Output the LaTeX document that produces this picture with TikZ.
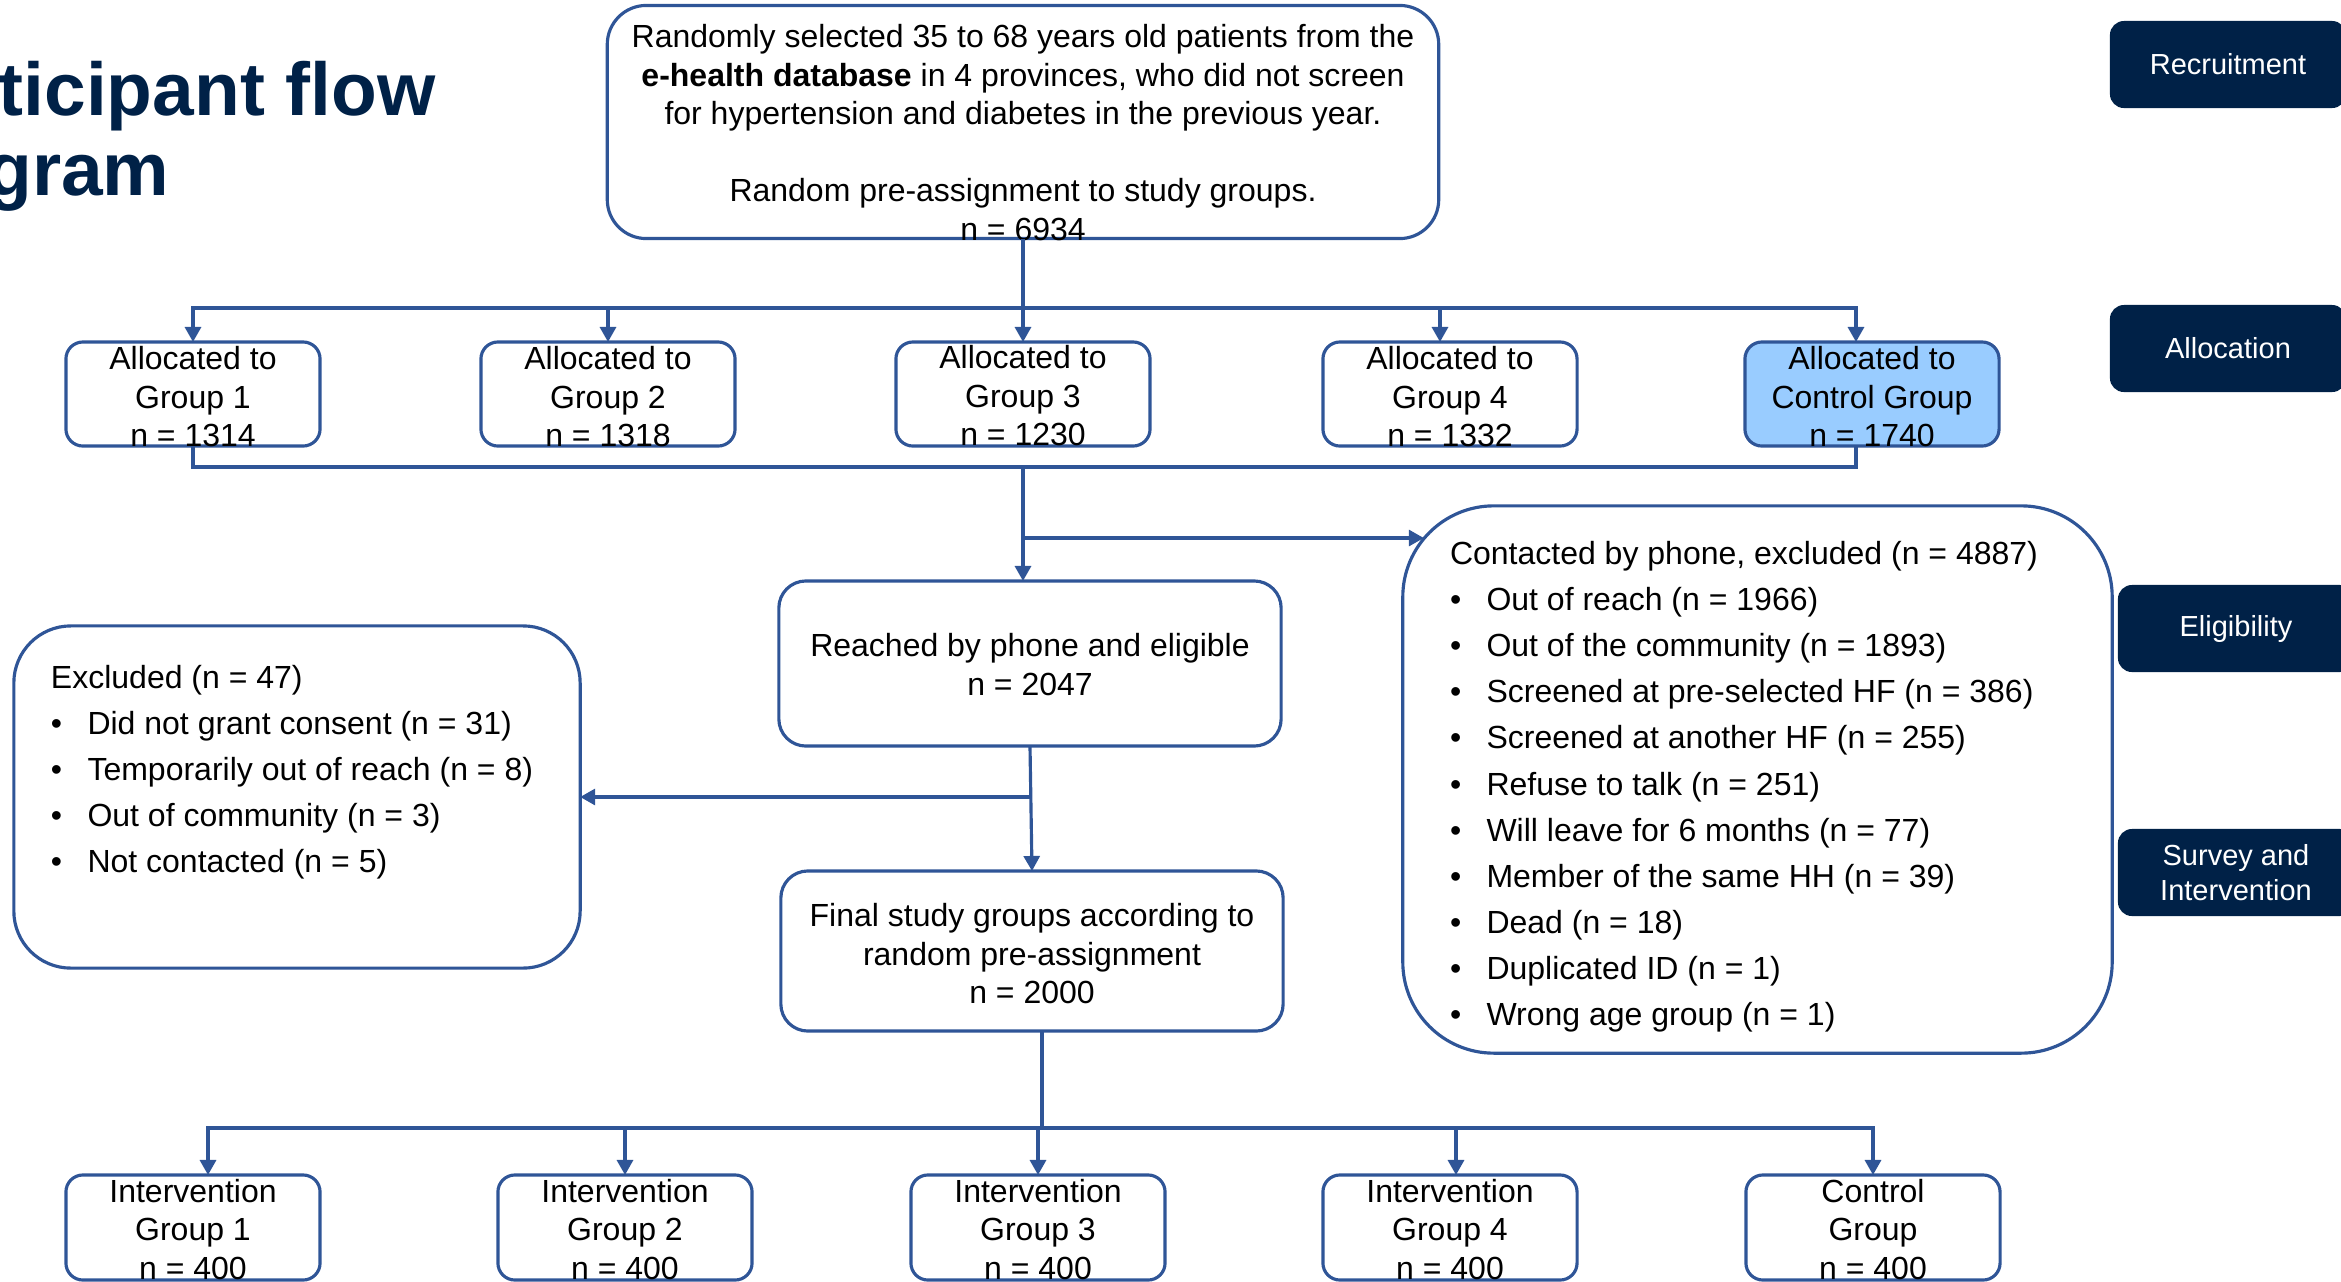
\documentclass[tikz,border=0pt]{standalone}
\usepackage{fontspec}
\setmainfont{Liberation Sans}
\usepackage{xcolor}
\usepackage{tikz}
\usetikzlibrary{arrows.meta,positioning,calc}

\definecolor{flowblue}{RGB}{47,85,151}
\definecolor{navy}{RGB}{0,33,71}
\definecolor{ctrlblue}{RGB}{153,204,255}
\newcommand{\flowitem}{\makebox[0.365cm][l]{\textbullet}}

\begin{document}
\begin{tikzpicture}[
    x=0.01cm, y=-0.01cm,
    every node/.style={inner sep=0pt, outer sep=0pt},
    box/.style={rectangle, draw=flowblue, line width=0.9pt, fill=white, minimum width=2.54cm, minimum height=1.04cm, rounded corners=0.17cm},
    ctrl/.style={box, fill=ctrlblue},
    bigbox/.style={box, rounded corners=#1},
    txt/.style={align=center, font=\fontsize{9.1}{10.95}\selectfont},
    listtxt/.style={align=left, anchor=north west, font=\fontsize{9.1}{13.1}\selectfont},
    stage/.style={rectangle, fill=navy, rounded corners=0.14cm, minimum width=2.36cm, minimum height=0.87cm, text=white, align=center, font=\fontsize{8.25}{9.9}\selectfont},
    heading/.style={align=left, anchor=north west, text=navy, font=\fontsize{21.3}{22.7}\selectfont\bfseries},
    arrow/.style={-{Triangle[length=0.15cm, width=0.16cm]}, draw=flowblue, line width=0.9pt},
    link/.style={draw=flowblue, line width=0.9pt}
]
\useasboundingbox (0,0) rectangle (2341,1281);
\clip (0,0) rectangle (2341,1281);

% Title
\node[heading] (title) at (-122,61) {Participant flow\\diagram};

% Recruitment
\node[bigbox=0.39cm, minimum width=8.31cm, minimum height=2.33cm] (rec) at (1023,122) {};
\node[txt] (rec-txt) at (1023,132.5) {Randomly selected 35 to 68 years old patients from the\\\textbf{e-health database} in 4 provinces, who did not screen\\for hypertension and diabetes in the previous year.\\[0.385cm]Random pre-assignment to study groups.\\n = 6934};

% Allocation
\node[box] (a1) at (193,394) {};
\node[box] (a2) at (608,394) {};
\node[box] (a3) at (1023,394) {};
\node[box] (a4) at (1450,394) {};
\node[ctrl] (a5) at (1872,394) {};
\node[txt] (a1-txt) at (193,397) {Allocated to\\Group 1\\n = 1314};
\node[txt] (a2-txt) at (608,397) {Allocated to\\Group 2\\n = 1318};
\node[txt] (a3-txt) at (1023,396) {Allocated to\\Group 3\\n = 1230};
\node[txt] (a4-txt) at (1450,397) {Allocated to\\Group 4\\n = 1332};
\node[txt] (a5-txt) at (1872,397) {Allocated to\\Control Group\\n = 1740};

% Eligibility
\node[bigbox=0.27cm, minimum width=5.02cm, minimum height=1.65cm] (reach) at (1030,663.5) {};
\node[txt] (reach-txt) at (1030,664.5) {Reached by phone and eligible\\n = 2047};
\node[bigbox=0.27cm, minimum width=5.02cm, minimum height=1.60cm] (fin) at (1032,951) {};
\node[txt] (fin-txt) at (1032,954) {Final study groups according to\\random pre-assignment\\n = 2000};

\node[bigbox=0.91cm, minimum width=7.09cm, minimum height=5.47cm] (contacted) at (1757.5,779.5) {};
\node[listtxt] (contacted-txt) at (1450,541.5) {Contacted by phone, excluded (n = 4887)\\
\flowitem Out of reach (n = 1966)\\
\flowitem Out of the community (n = 1893)\\
\flowitem Screened at pre-selected HF (n = 386)\\
\flowitem Screened at another HF (n = 255)\\
\flowitem Refuse to talk (n = 251)\\
\flowitem Will leave for 6 months (n = 77)\\
\flowitem Member of the same HH (n = 39)\\
\flowitem Dead (n = 18)\\
\flowitem Duplicated ID (n = 1)\\
\flowitem Wrong age group (n = 1)};

\node[bigbox=0.57cm, minimum width=5.66cm, minimum height=3.42cm] (excluded) at (297,797) {};
\node[listtxt] (excluded-txt) at (51,665) {Excluded (n = 47)\\
\flowitem Did not grant consent (n = 31)\\
\flowitem Temporarily out of reach (n = 8)\\
\flowitem Out of community (n = 3)\\
\flowitem Not contacted (n = 5)};

% Survey and intervention
\node[box, minimum height=1.05cm] (i1) at (193,1227.5) {};
\node[box, minimum height=1.05cm] (i2) at (625,1227.5) {};
\node[box, minimum height=1.05cm] (i3) at (1038,1227.5) {};
\node[box, minimum height=1.05cm] (i4) at (1450,1227.5) {};
\node[box, minimum height=1.05cm] (i5) at (1873,1227.5) {};
\node[txt] (i1-txt) at (193,1229.5) {Intervention\\Group 1\\n = 400};
\node[txt] (i2-txt) at (625,1229.5) {Intervention\\Group 2\\n = 400};
\node[txt] (i3-txt) at (1038,1229.5) {Intervention\\Group 3\\n = 400};
\node[txt] (i4-txt) at (1450,1229.5) {Intervention\\Group 4\\n = 400};
\node[txt] (i5-txt) at (1873,1229.5) {Control\\Group\\n = 400};

% Stage tags
\node[stage] (s1) at (2228,64.5) {Recruitment};
\node[stage] (s2) at (2228,348.5) {Allocation};
\node[stage] (s3) at (2236,628.5) {Eligibility};
\node[stage] (s4) at (2236,872.5) {Survey and\\Intervention};

% Connections
\coordinate (bus1) at (rec.south |- 0,308);
\draw[link] (rec.south) -- (bus1);
\draw[arrow] (bus1) -| (a1.north);
\draw[arrow] (bus1) -| (a2.north);
\draw[arrow] (bus1) -- (a3.north);
\draw[arrow] (bus1) -| ([xshift=-0.1cm]a4.north);
\draw[arrow] (bus1) -| ([xshift=-0.16cm]a5.north);

\coordinate (bus2) at (a3.south |- 0,467);
\draw[link] (a1.south) |- (bus2) -| ([xshift=-0.16cm]a5.south);
\draw[arrow] (bus2) -- (bus2 |- reach.north);

\coordinate (split1) at (bus2 |- 0,538);
\coordinate (contacted-in) at ([xshift=0.21cm]split1 -| contacted.west);
\draw[arrow] (split1) -- (contacted-in);

\draw[arrow] (reach.south) -- (fin.north);
\coordinate (split2) at (reach.south |- 0,797);
\draw[arrow] (split2) -- (split2 -| excluded.east);

\coordinate (fout) at ([xshift=0.1cm]fin.south);
\coordinate (bus3) at (fout |- 0,1128);
\draw[link] (fout) -- (bus3);
\draw[arrow] (bus3) -| ([xshift=0.15cm]i1.north);
\draw[arrow] (bus3) -| (i2.north);
\draw[arrow] (bus3) -| (i3.north);
\draw[arrow] (bus3) -| ([xshift=0.06cm]i4.north);
\draw[arrow] (bus3) -| (i5.north);

\end{tikzpicture}
\end{document}
